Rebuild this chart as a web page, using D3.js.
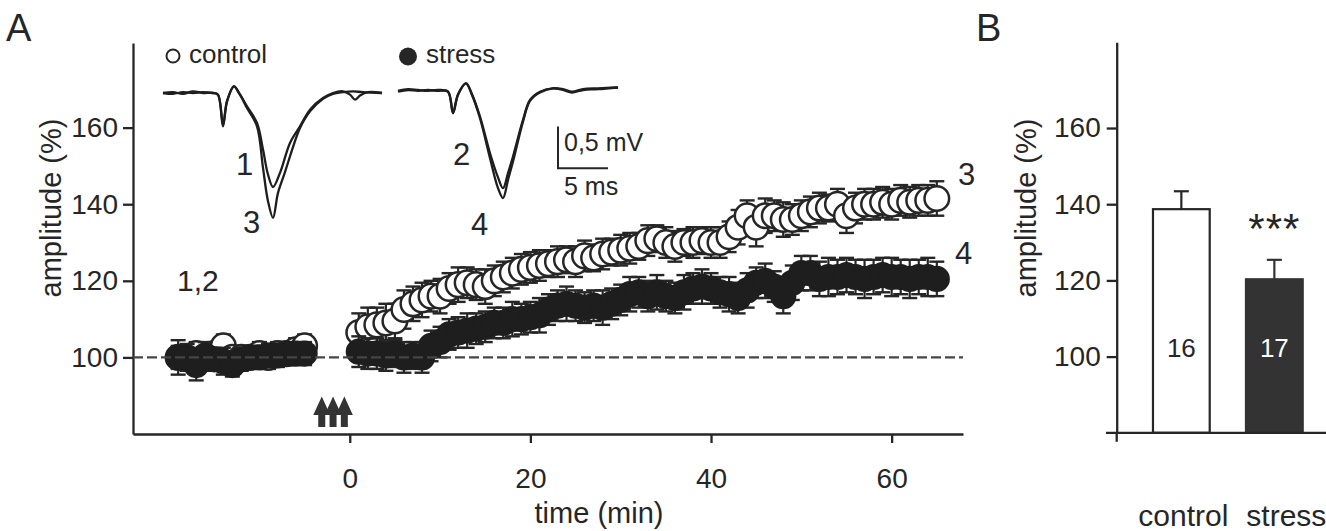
<!DOCTYPE html>
<html><head><meta charset="utf-8">
<script src="https://cdn.jsdelivr.net/npm/d3@7"></script>
<style>
html,body{margin:0;padding:0;background:#fff;}
svg{display:block;font-family:"Liberation Sans",Arial,Helvetica,sans-serif;}
</style>
</head><body>
<svg id="c" width="1326" height="531"></svg>
<script>
// ---------- DATA ----------
const timePre  = [-19,-18,-17,-16,-15,-14,-13,-12,-11,-10,-9,-8,-7,-6,-5];
const ctrlPre  = [100,100,101,100,101,103,100,100,100,101,100,101,101,102,103];
const ctrlPreSem = [3,3,3,3,3,3,3,3,3,3,3,3,3,3,3];
const stressPre  = [100,100,98,100.5,99.5,99,98,99.5,100,100,100.5,100.5,101,101,101];
const stressPreSem = [4.5,3.5,4,3.5,3,3.5,3,3,3,3,3,3,3,3,3];

const timePost = [1,2,3,4,5,6,7,8,9,10,
  11,12,13,14,15,16,17,18,19,20,
  21,22,23,24,25,26,27,28,29,30,
  31,32,33,34,35,36,37,38,39,40,
  41,42,43,44,45,46,47,48,49,50,
  51,52,53,54,55,56,57,58,59,60,
  61,62,63,64,65];
const ctrlPost = [106.5,108,108.5,109,109.5,112.5,114,115,116,116,
  118,119,119.5,119,118.5,120,121,122,123,123.5,
  124,124.5,125,125.5,125,126.5,126,127,127.5,128,
  128.5,129,130.5,131,130,129,130,130,130.5,130,
  130,131.5,134,137,134,137,137,136,136,137,
  138,139,139,140,137,139,140,140,140.5,140,
  141,140.5,141,141,141.5];
const ctrlPostSem = [5,5,4.5,5,4.5,5,4.5,4.5,4,4.5,
  4,4.5,4,4,4.5,4,4,4,4,4,
  4,3.5,4,3.5,4,4,3.5,4,3.5,4,
  4,3.5,4,3.5,4,4,3.5,4,3.5,4,
  4,4,4.5,4,5,4.5,4,4.5,4,4,
  4,4,3.5,4,4.5,4,4,4,4,4,
  4,4,4,4,4.5];
const stressPost = [101.5,101,101,100.5,101,100,100.5,100,103,104,
  106,106.5,107,107.5,108,109,109,110,110,110.5,
  111,112.5,113.5,114,113.5,113,113.5,113,114,115,
  116.5,117,116,117,116,115.5,117,118,118.5,118,
  117,116.5,115.5,117.5,119.5,120,118.5,116,119.5,122,
  122,120.5,121,121,121.5,121,120.5,121,121.5,121,
  121,120.5,121,121,120.5];
const stressPostSem = [4,4,4,4,3.5,4,3.5,4,4,4,
  4,4,4.5,4,4,4,4,4.5,4,4,
  4.5,4,4,4.5,4,4,4,4.5,4,4,
  4.5,4,4,4.5,4,4,4.5,4,4.5,4,
  4,4.5,4,4.5,4,4.5,4,4.5,4.5,4.5,
  4.5,4.5,5,4.5,4.5,4.5,5,4.5,4.5,5,
  4.5,5,4.5,5,4.5];

const stimTimes = [-3.1, -1.85, -0.6];      // tetanus arrows (min)
const xTicksA = [0, 20, 40, 60];
const yTicks = [100, 120, 140, 160];

// panel B
const barCats  = ["control", "stress"];
const barMeans = [138.7, 120.3];
const barSems  = [4.7, 5.1];
const barN     = ["16", "17"];

// example field potentials: [time ms, mV]
const trace1 = [[0,0],[1,0.01],[2,-0.01],[3,0.02],[4,0],[5,0],[5.5,-0.02],[6.0,-0.4],[6.4,-0.1],[7.1,0.08],[7.6,0.0],[8.4,-0.16],[9.4,-0.36],[10.0,-0.68],[10.5,-0.98],[11.0,-1.13],[11.7,-0.96],[12.7,-0.6],[13.7,-0.4],[14.7,-0.2],[16.0,-0.06],[17.0,0.0],[18.0,0.02],[18.7,-0.02],[19.2,-0.08],[19.7,-0.03],[20.5,0.01],[21.9,0]];
const trace3 = [[0,0],[1,-0.01],[2,0.01],[3,0],[4,0.01],[5,0],[5.5,-0.02],[6.0,-0.38],[6.4,-0.1],[7.1,0.08],[7.6,0.0],[8.4,-0.18],[9.4,-0.4],[10.0,-0.9],[10.5,-1.3],[11.0,-1.5],[11.5,-1.2],[12.2,-0.95],[13.0,-0.65],[13.7,-0.42],[14.7,-0.22],[16.0,-0.07],[17.0,-0.01],[18.0,0.01],[19.0,0.02],[20.0,0.01],[21.9,0.0]];
const trace2 = [[0,-0.02],[1,0],[2,-0.01],[3,0],[4,-0.01],[5,-0.02],[5.5,-0.28],[6.0,-0.06],[6.8,0.08],[7.4,-0.05],[8.2,-0.32],[9.2,-0.76],[10.0,-1.05],[10.5,-1.18],[11.0,-1.0],[11.5,-0.8],[12.5,-0.36],[13.2,-0.12],[14.2,-0.02],[15.5,0.02],[16.5,0.01],[17.4,-0.02],[18.5,0.01],[20,0.02],[22,0.03]];
const trace4 = [[0,-0.01],[1,0.01],[2,0],[3,-0.01],[4,0],[5,-0.02],[5.5,-0.27],[6.0,-0.05],[6.8,0.08],[7.4,-0.06],[8.2,-0.34],[9.2,-0.82],[10.0,-1.18],[10.5,-1.3],[11.0,-1.08],[11.5,-0.86],[12.5,-0.38],[13.2,-0.13],[14.2,-0.03],[15.5,0.02],[16.5,0.0],[17.4,-0.03],[18.5,0.0],[20,0.01],[22,0.03]];

// ---------- DRAW ----------
const ink = "#262626";
const svg = d3.select("#c");

// ===== Panel A =====
const xA = d3.scaleLinear().domain([-24, 67.9]).range([133, 963]);
const yA = d3.scaleLinear().domain([80, 182.1]).range([434, 43]);

const gA = svg.append("g");
const yAxisA = gA.append("g").attr("transform", `translate(${xA(-24)},0)`)
  .call(d3.axisLeft(yA).tickValues(yTicks).tickSize(10).tickSizeOuter(0).tickPadding(5));
const xAxisA = gA.append("g").attr("transform", `translate(0,${yA(80)})`)
  .call(d3.axisBottom(xA).tickValues(xTicksA).tickSize(9).tickSizeOuter(0).tickPadding(25));
[yAxisA, xAxisA].forEach(a => {
  a.selectAll("path,line").attr("stroke", ink).attr("stroke-width", 2.3);
  a.selectAll("text").attr("fill", ink).attr("font-size", 28);
});

gA.append("text").attr("x", 599).attr("y", 523).attr("text-anchor", "middle")
  .attr("font-size", 29).attr("fill", ink).text("time (min)");
gA.append("text").attr("transform", "translate(61,208) rotate(-90)").attr("text-anchor", "middle")
  .attr("font-size", 29).attr("fill", ink).text("amplitude (%)");
svg.append("text").attr("x", 6).attr("y", 41).attr("font-size", 38).attr("fill", ink).text("A");

// series
const pre = timePre.map((t, i) => ({t, c: ctrlPre[i], cs: ctrlPreSem[i], s: stressPre[i], ss: stressPreSem[i]}));
const post = timePost.map((t, i) => ({t, c: ctrlPost[i], cs: ctrlPostSem[i], s: stressPost[i], ss: stressPostSem[i]}));
const all = pre.concat(post);
const R = 12.3, capW = 15;

function errBars(g, key, semKey) {
  const e = g.selectAll(null).data(all).enter().append("g");
  e.append("line").attr("x1", d => xA(d.t)).attr("x2", d => xA(d.t))
    .attr("y1", d => yA(d[key] - d[semKey])).attr("y2", d => yA(d[key] + d[semKey]))
    .attr("stroke", ink).attr("stroke-width", 2.2);
  [1, -1].forEach(sg => {
    e.append("line").attr("x1", d => xA(d.t) - capW / 2).attr("x2", d => xA(d.t) + capW / 2)
      .attr("y1", d => yA(d[key] + sg * d[semKey])).attr("y2", d => yA(d[key] + sg * d[semKey]))
      .attr("stroke", ink).attr("stroke-width", 2.4);
  });
}
const gData = gA.append("g");
errBars(gData, "c", "cs");
gData.selectAll(null).data(all).enter().append("circle")
  .attr("cx", d => xA(d.t)).attr("cy", d => yA(d.c)).attr("r", R)
  .attr("fill", "#fff").attr("stroke", ink).attr("stroke-width", 2.5);
errBars(gData, "s", "ss");
gData.selectAll(null).data(all).enter().append("circle")
  .attr("cx", d => xA(d.t)).attr("cy", d => yA(d.s)).attr("r", R + 0.8)
  .attr("fill", "#1e1e1e");

// dashed 100% line
gA.append("line").attr("x1", xA(-24)).attr("x2", xA(67.9))
  .attr("y1", yA(100)).attr("y2", yA(100))
  .attr("stroke", "#454545").attr("stroke-width", 2.4).attr("stroke-dasharray", "10,4");

// stimulation arrows
const arrowG = gA.append("g");
stimTimes.forEach(t => {
  const x = xA(t);
  arrowG.append("path")
    .attr("d", `M${x},396.5 L${x + 8.5},415 L${x + 3.5},415 L${x + 3.5},427 L${x - 3.5},427 L${x - 3.5},415 L${x - 8.5},415 Z`)
    .attr("fill", "#333");
});

// labels on the time course
const lab = (x, y, s, fs) => gA.append("text").attr("x", x).attr("y", y).attr("font-size", fs || 31).attr("fill", ink).text(s);
lab(177, 291, "1,2", 30);
lab(958, 185, "3");
lab(955, 264, "4");

// legend
gA.append("circle").attr("cx", 173).attr("cy", 56).attr("r", 6.5).attr("fill", "#fff").attr("stroke", ink).attr("stroke-width", 2);
gA.append("text").attr("x", 189).attr("y", 63).attr("font-size", 26).attr("fill", ink).text("control");
gA.append("circle").attr("cx", 408).attr("cy", 56.5).attr("r", 9).attr("fill", ink);
gA.append("text").attr("x", 426).attr("y", 63).attr("font-size", 26).attr("fill", ink).text("stress");

// traces
const tx1 = d3.scaleLinear().domain([0, 22]).range([163, 383]);
const ty1 = d3.scaleLinear().domain([0, -1]).range([93, 176.2]);
const tx2 = d3.scaleLinear().domain([0, 22]).range([398, 618]);
const ty2 = d3.scaleLinear().domain([0, -1]).range([90, 173.2]);
const line1 = d3.line().x(d => tx1(d[0])).y(d => ty1(d[1])).curve(d3.curveCatmullRom.alpha(0.5));
const line2 = d3.line().x(d => tx2(d[0])).y(d => ty2(d[1])).curve(d3.curveCatmullRom.alpha(0.5));
const gT = gA.append("g").attr("fill", "none").attr("stroke", "#1e1e1e").attr("stroke-width", 2.3).attr("stroke-linejoin", "round");
gT.append("path").attr("d", line1(trace1));
gT.append("path").attr("d", line1(trace3));
gT.append("path").attr("d", line2(trace2));
gT.append("path").attr("d", line2(trace4));

lab(236, 175, "1");
lab(243, 233, "3");
lab(453, 165, "2");
lab(471, 235, "4");

// scale bar: 0.5 mV / 5 ms
gA.append("path")
  .attr("d", `M${tx2(16)},${ty2(-0.44)} L${tx2(16)},${ty2(-0.94)} L${tx2(21)},${ty2(-0.94)}`)
  .attr("fill", "none").attr("stroke", ink).attr("stroke-width", 2);
gA.append("text").attr("x", 564).attr("y", 151).attr("font-size", 25).attr("fill", ink).text("0,5 mV");
gA.append("text").attr("x", 564).attr("y", 195).attr("font-size", 25).attr("fill", ink).text("5 ms");

// ===== Panel B =====
const yB = d3.scaleLinear().domain([80, 182.5]).range([432.8, 42.3]);
const xB = d3.scaleBand().domain(barCats).range([1116.7, 1339]).paddingInner(0.39).paddingOuter(0.39);
const gB = svg.append("g");
const yAxisB = gB.append("g").attr("transform", `translate(1116.7,0)`)
  .call(d3.axisLeft(yB).tickValues(yTicks).tickSize(10).tickSizeOuter(0).tickPadding(6));
yAxisB.selectAll("path,line").attr("stroke", ink).attr("stroke-width", 2.3);
yAxisB.selectAll("text").attr("fill", ink).attr("font-size", 28);
gB.append("line").attr("x1", 1116.7).attr("x2", 1116.7).attr("y1", yB(80)).attr("y2", yB(80) + 9)
  .attr("stroke", ink).attr("stroke-width", 2.3);

// bars
gB.selectAll(null).data(barCats).enter().append("rect")
  .attr("x", d => xB(d)).attr("width", xB.bandwidth())
  .attr("y", (d, i) => yB(barMeans[i])).attr("height", (d, i) => yB(80) - yB(barMeans[i]))
  .attr("fill", (d, i) => i === 0 ? "#fff" : "#333")
  .attr("stroke", (d, i) => i === 0 ? ink : "#333").attr("stroke-width", 2.2);
barCats.forEach((c, i) => {
  const cx = xB(c) + xB.bandwidth() / 2;
  gB.append("line").attr("x1", cx).attr("x2", cx).attr("y1", yB(barMeans[i])).attr("y2", yB(barMeans[i] + barSems[i]))
    .attr("stroke", i === 0 ? ink : "#333").attr("stroke-width", 2.2);
  gB.append("line").attr("x1", cx - 7.5).attr("x2", cx + 7.5).attr("y1", yB(barMeans[i] + barSems[i])).attr("y2", yB(barMeans[i] + barSems[i]))
    .attr("stroke", i === 0 ? ink : "#333").attr("stroke-width", 2.2);
  gB.append("text").attr("x", cx).attr("y", yB(100)).attr("text-anchor", "middle")
    .attr("font-size", 26).attr("fill", i === 0 ? ink : "#fff").text(barN[i]);
});
const xAxisB = gB.append("g").attr("transform", `translate(0,${yB(80)})`)
  .call(d3.axisBottom(xB).tickSize(0).tickSizeOuter(0).tickPadding(72));
xAxisB.select(".domain").remove();
xAxisB.selectAll("text").attr("fill", ink).attr("font-size", 30)
  .attr("dx", (d, i) => i === 0 ? 2 : 12);
gB.append("line").attr("x1", 1106).attr("x2", 1326).attr("y1", yB(80)).attr("y2", yB(80))
  .attr("stroke", ink).attr("stroke-width", 2.3);

gB.append("text").attr("x", xB("stress") + xB.bandwidth() / 2).attr("y", 243)
  .attr("text-anchor", "middle").attr("font-size", 42).attr("letter-spacing", 1).attr("fill", ink).text("***");

gB.append("text").attr("transform", "translate(1036,208) rotate(-90)").attr("text-anchor", "middle")
  .attr("font-size", 29).attr("fill", ink).text("amplitude (%)");
svg.append("text").attr("x", 976).attr("y", 41).attr("font-size", 38).attr("fill", ink).text("B");
</script>
</body></html>
